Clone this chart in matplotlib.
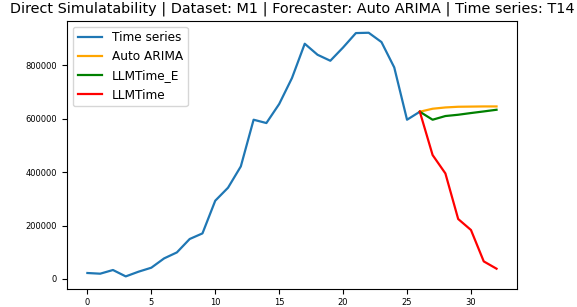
import matplotlib
matplotlib.use("Agg")
import matplotlib.pyplot as plt

# observed series (t = 0..26)
series = [22400, 19800, 33600, 9700, 27300, 42200, 77000, 99400, 149500, 170500,
          292700, 341300, 421000, 595500, 583100, 654200, 751300, 879600, 838400,
          816000, 865700, 919500, 920700, 885900, 791000, 595500, 625400]

# forecasts (t = 26..32), starting from last observed point
fc_x = list(range(26, 33))
auto_arima = [625400, 636600, 641400, 644000, 644600, 645200, 645200]
llmtime_e = [625400, 595500, 609300, 614100, 620500, 626500, 632800]
llmtime = [625400, 463500, 394700, 224300, 183200, 65800, 38500]

fig = plt.figure(figsize=(5.77, 3.07), dpi=100)
ax = fig.add_axes([0.116, 0.06, 0.78, 0.873])

ax.plot(range(len(series)), series, color="#1f77b4", lw=1.6, label="Time series")
ax.plot(fc_x, auto_arima, color="orange", lw=1.6, label="Auto ARIMA")
ax.plot(fc_x, llmtime_e, color="green", lw=1.6, label="LLMTime_E")
ax.plot(fc_x, llmtime, color="red", lw=1.6, label="LLMTime")

ax.tick_params(labelsize=6)
ax.legend(loc="upper left", fontsize=8.7)
ax.set_title("Direct Simulatability | Dataset: M1 | Forecaster: Auto ARIMA | Time series: T14",
             fontsize=10.35, x=0.5)

fig.savefig("out.png", dpi=100)
